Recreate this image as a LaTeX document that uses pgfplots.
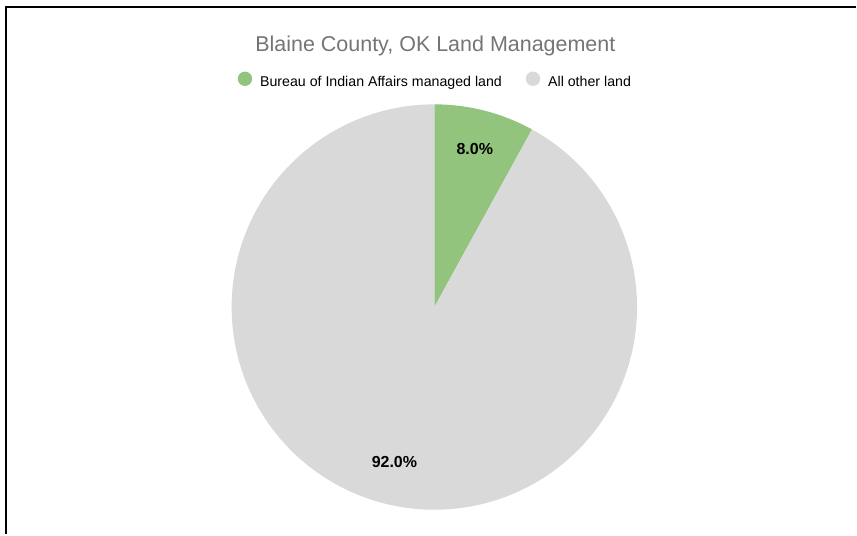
\documentclass[border=0pt]{standalone}
\usepackage{pgfplots}
\pgfplotsset{compat=1.18}
\usepackage{fontspec}
\setmainfont{Liberation Sans}
\definecolor{piegreen}{HTML}{93C47D}
\definecolor{piegray}{HTML}{D9D9D9}
\definecolor{titlegray}{HTML}{757575}
% pie data (percent)
\def\pctA{8.0}
\def\pctB{92.0}
\def\cx{435}
\def\cy{227.5}
\def\rr{203}
\begin{document}
\begin{tikzpicture}
\begin{axis}[
  at={(0,0)}, anchor=south west,
  scale only axis, width=857pt, height=535pt,
  xmin=0, xmax=857, ymin=0, ymax=535,
  hide axis, clip=false,
  legend style={
    at={(axis cs:436,454)}, anchor=center,
    draw=none, fill=none,
    legend columns=2,
    font=\fontsize{14.2}{16}\selectfont,
    /tikz/every even column/.append style={column sep=22pt},
    legend cell align=left,
  },
]
\fill[white] (axis cs:0,0) rectangle (axis cs:857,535);
% green wedge
\addplot[draw=none, fill=piegreen, domain=90-3.6*\pctA:90, samples=60, variable=\t,
  legend image code/.code={\fill[piegreen] (4pt,0.35em) circle (7.2pt);}]
  ({\cx+\rr*cos(\t)},{\cy+\rr*sin(\t)}) -- (axis cs:\cx,\cy) -- cycle;
\addlegendentry{\hspace{6pt}Bureau of Indian Affairs managed land}
% gray wedge
\addplot[draw=none, fill=piegray, domain=90-3.6*\pctA-3.6*\pctB:90-3.6*\pctA, samples=300, variable=\t,
  legend image code/.code={\fill[piegray] (4pt,0.35em) circle (7.2pt);}]
  ({\cx+\rr*cos(\t)},{\cy+\rr*sin(\t)}) -- (axis cs:\cx,\cy) -- cycle;
\addlegendentry{\hspace{6pt}All other land}
\node[font=\fontsize{16}{18}\selectfont\bfseries] at (axis cs:475.5,385.5) {\pctA\%};
\node[font=\fontsize{16}{18}\selectfont\bfseries] at (axis cs:395,72) {\pctB\%};
\node[font=\fontsize{21.5}{25}\selectfont, text=titlegray, anchor=base, inner sep=0pt] at (axis cs:436,483.5) {Blaine County, OK Land Management};
\draw[black, line width=2.6pt] (axis cs:6.2,0) -- (axis cs:6.2,528) -- (axis cs:857,528);
\end{axis}
\end{tikzpicture}
\end{document}
